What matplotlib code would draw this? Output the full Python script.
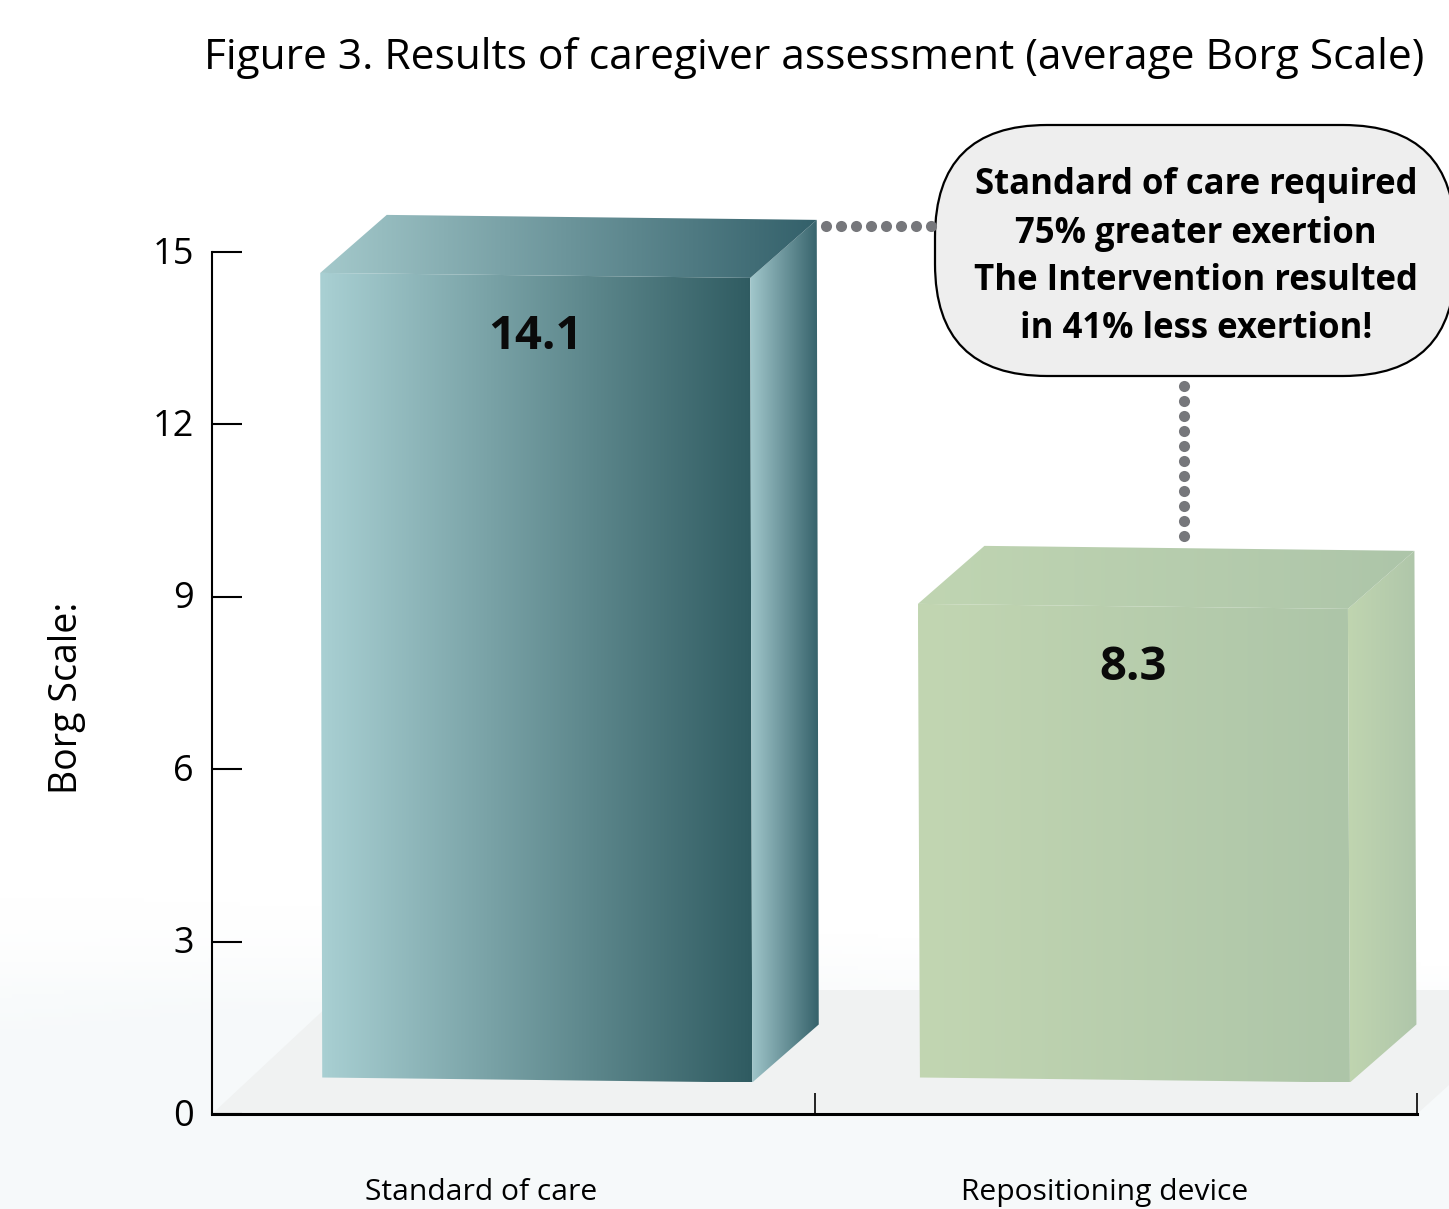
import numpy as np
import matplotlib
matplotlib.use('Agg')
import matplotlib.pyplot as plt
from matplotlib.colors import LinearSegmentedColormap
from matplotlib.patches import FancyBboxPatch, Polygon
from matplotlib.transforms import ScaledTranslation

plt.rcParams['font.family'] = ['Open Sans', 'DejaVu Sans']

categories = ['Standard of care', 'Repositioning device']
values = [14.1, 8.3]
value_labels = ['14.1', '8.3']
y_ticks = [0, 3, 6, 9, 12, 15]
callout_lines = ['Standard of care required', '75% greater exertion',
	'The Intervention resulted', 'in 41% less exertion!']

W, H = 1449, 1209
fig = plt.figure(figsize=(W / 100, H / 100), dpi=100, facecolor='white')

# Background wash and floor, in pixels
bg = fig.add_axes([0, 0, 1, 1], zorder=0)
bg.set_xlim(0, W)
bg.set_ylim(H, 0)
bg.axis('off')
xx, yy = np.meshgrid(np.arange(0, W, 4), np.arange(0, H, 4))
edge = 890 - 0.10 * xx
wash = np.clip((yy - edge) / 160, 0, 1) * np.clip(1 - 0.75 * xx / W + (yy - 990) / 100, 0, 1)
wash_cmap = LinearSegmentedColormap.from_list('wash', ['#ffffff', '#f6f9fa'])
bg.imshow(wash, cmap=wash_cmap, extent=[0, W, H, 0], aspect='auto', vmin=0, vmax=1)
bg.add_patch(Polygon([(212, 1114), (345, 990), (W, 990), (W, 1085), (1417, 1114)],
	facecolor='#f0f2f2', edgecolor='none'))

# Main chart axes, taller than the scale so the box tops have room
unit = 862 / 15
ax = fig.add_axes([212 / W, 95 / H, 1205 / W, 994 / H], zorder=1)
ax.patch.set_alpha(0)
ax.set_xlim(-0.5, 1.5)
ax.set_ylim(0, 994 / unit)

for s in ['top', 'right']:
	ax.spines[s].set_visible(False)
ax.spines['left'].set_bounds(0, 15)
ax.spines['left'].set_linewidth(1.5)
ax.spines['bottom'].set_linewidth(2.2)

ax.set_yticks(y_ticks)
ax.tick_params(axis='y', direction='in', length=21.6, width=1.5, labelsize=26, pad=13)
ax.set_xticks([0.5, 1.5])
ax.set_xticklabels(['', ''])
ax.tick_params(axis='x', which='major', direction='in', length=15, width=1.2)
ax.set_xticks([-0.054, 0.982], labels=categories, minor=True)
ax.tick_params(axis='x', which='minor', length=0, labelsize=21.6, pad=46)
for lab in ax.get_yticklabels():
	lab.set_transform(lab.get_transform() + ScaledTranslation(0, 2 / 100, fig.dpi_scale_trans))


def face(poly, c1, c2):
	# horizontal gradient clipped to a polygon
	poly = np.array(poly)
	cmap = LinearSegmentedColormap.from_list('f', [c1, c2])
	im = ax.imshow(np.linspace(0, 1, 256)[None, :], cmap=cmap, aspect='auto',
		extent=[poly[:, 0].min(), poly[:, 0].max(), poly[:, 1].min(), poly[:, 1].max()], zorder=2)
	im.set_clip_path(Polygon(poly, transform=ax.transData))


bar_w = 430 / 602.5
depth_x = 66.5 / 602.5
depth_y = 58 / unit
slope = 5 / unit
lean = 2 / 602.5
base = 36.5 / unit
centers = [0.0365, 1.0285]
colors = [
	('#a9d0d3', '#2f5b61', '#a2c8cc', '#35616a', '#a4c9cb', '#33606a'),
	('#c2d6b2', '#adc5a8', '#c0d5b0', '#afc6aa', '#c0d5b2', '#adc5a9'),
]

for cx, v, lab, c in zip(centers, values, value_labels, colors):
	left = cx - bar_w / 2
	right = cx + bar_w / 2
	top = base + v * 0.993
	fl = (left, top)
	fr = (right, top - slope)
	bl = (left + lean, base)
	br = (right + lean, base - slope)
	face([fl, fr, br, bl], c[0], c[1])
	face([fr, (right + depth_x, top - slope + depth_y),
		(right + depth_x + lean, base - slope + depth_y), br], c[2], c[3])
	face([fl, (left + depth_x, top + depth_y), (right + depth_x, top - slope + depth_y), fr], c[4], c[5])
	ax.text(cx, top - 1.1, lab, ha='center', va='center', fontsize=34, fontweight='bold', color='#0a0a0a', zorder=3)

ax.set_xlim(-0.5, 1.5)
ax.set_ylim(0, 994 / unit)

# Overlay in pixels for title, axis label and callout
top_ax = fig.add_axes([0, 0, 1, 1], zorder=2)
top_ax.set_xlim(0, W)
top_ax.set_ylim(H, 0)
top_ax.axis('off')

top_ax.text(814, 69, 'Figure 3. Results of caregiver assessment (average Borg Scale)',
	ha='center', va='baseline', fontsize=30.6, color='black')
top_ax.text(67, 698, 'Borg Scale:', rotation=90, ha='center', va='center', fontsize=27, color='black')

top_ax.plot(np.arange(826, 934, 15), [226] * 8, 'o', ms=8, color='#76777b', mec='none')
top_ax.plot([1184] * 11, np.arange(386, 537, 15), 'o', ms=8, color='#76777b', mec='none')

top_ax.add_patch(FancyBboxPatch((935, 125), 520, 251, boxstyle='round,pad=0,rounding_size=112',
	facecolor='#eeeeee', edgecolor='black', linewidth=1.6, mutation_aspect=1))
for line, y in zip(callout_lines, [194, 243, 290, 338]):
	top_ax.text(1196, y, line, ha='center', va='baseline', fontsize=25, fontweight='bold', color='black')

fig.savefig('out.png', dpi=100)
